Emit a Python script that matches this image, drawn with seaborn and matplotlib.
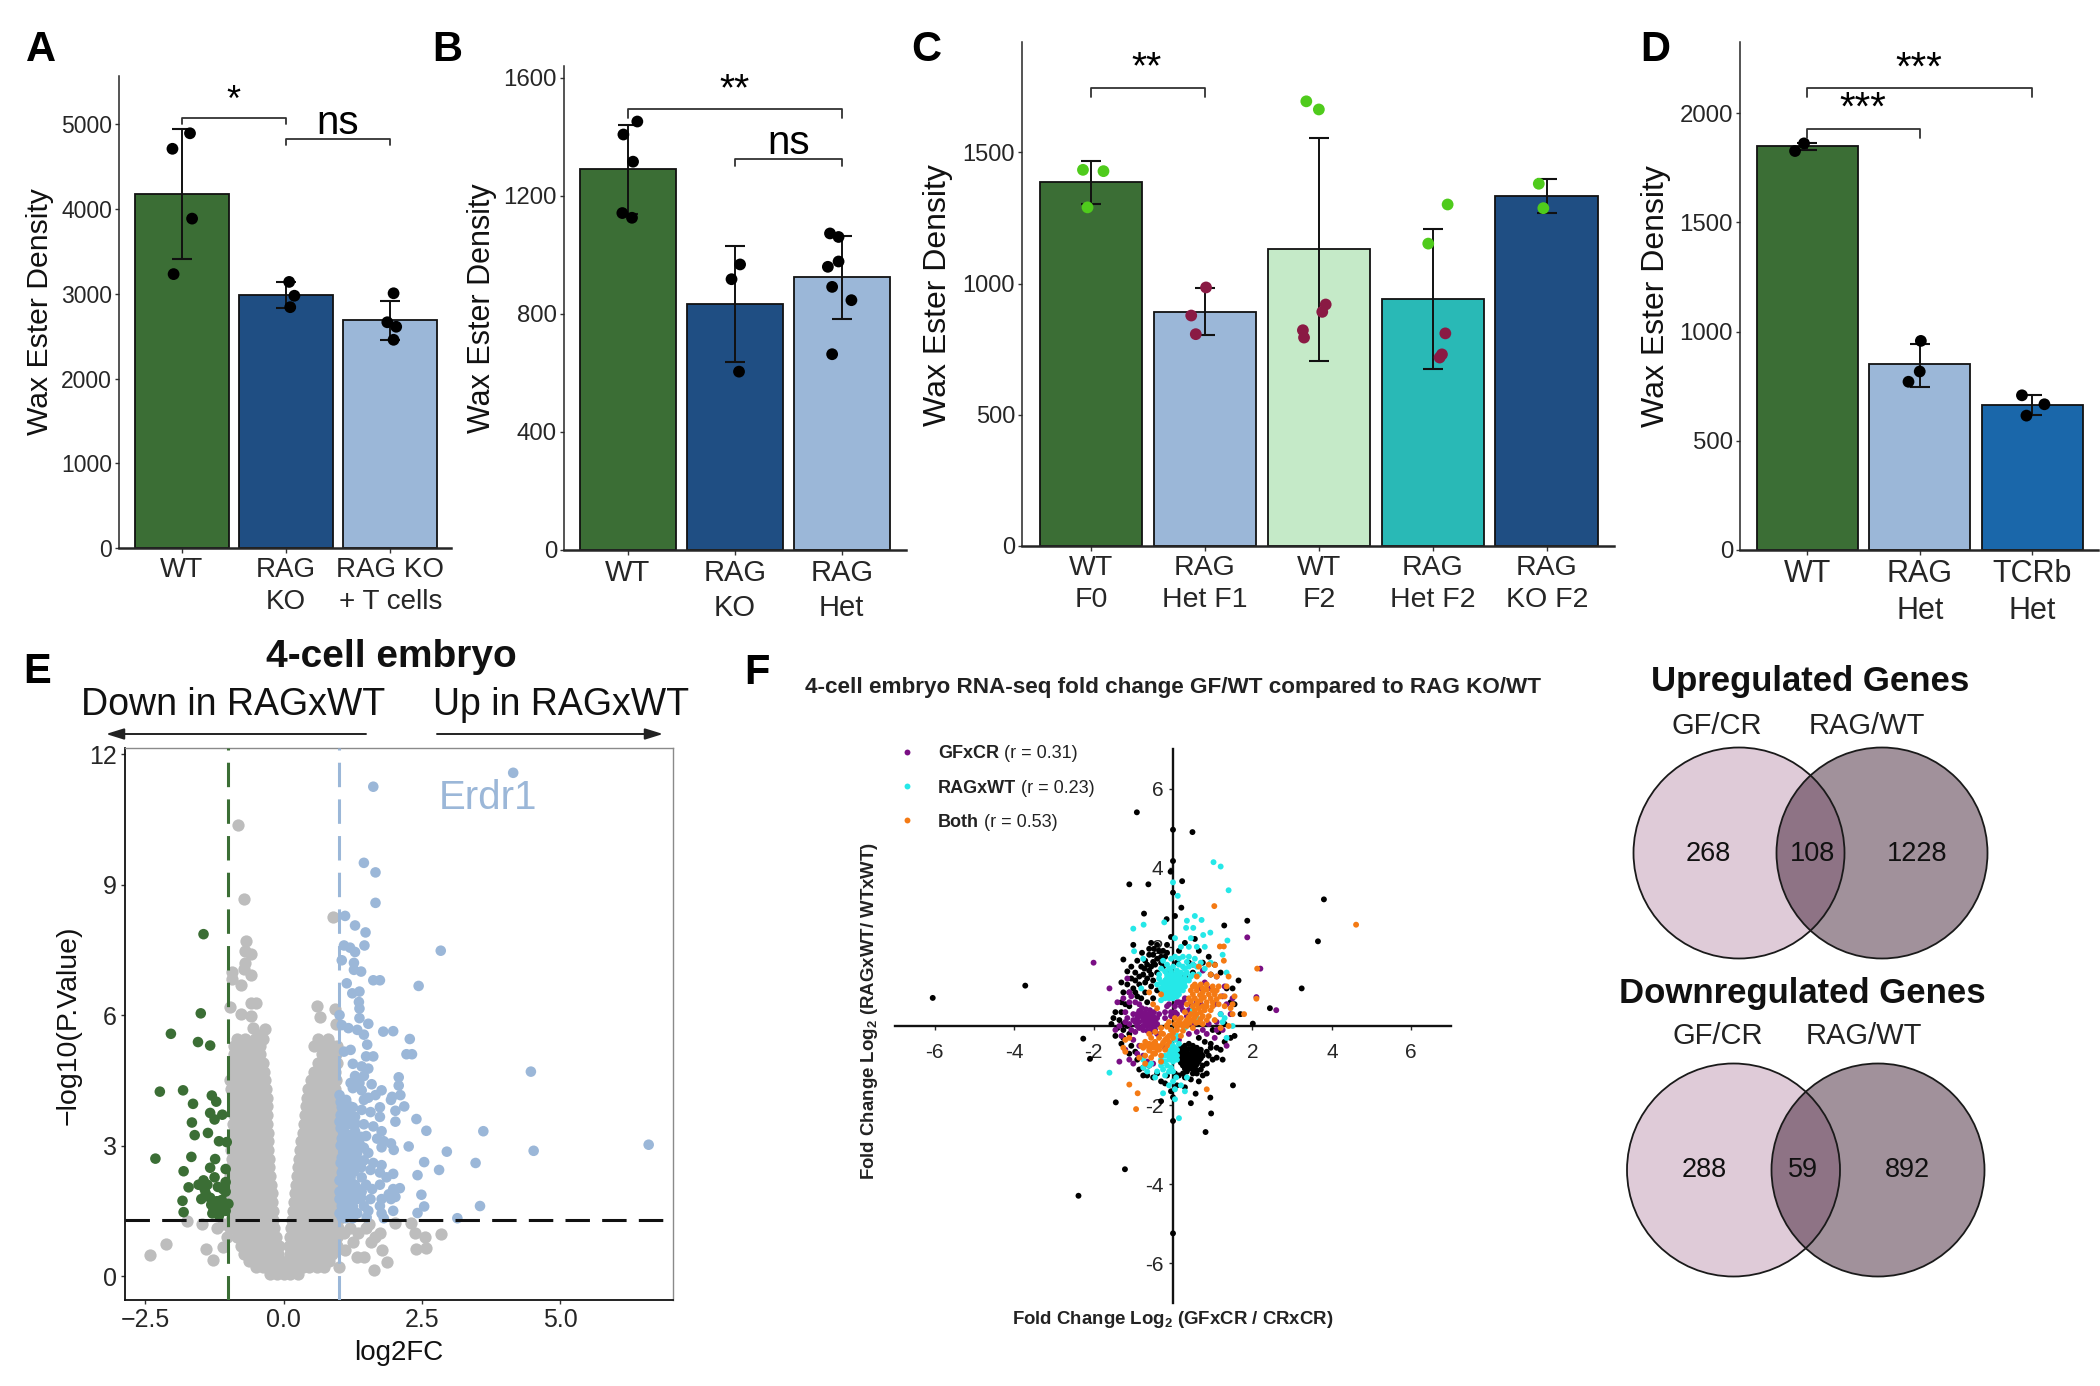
import matplotlib
matplotlib.use("Agg")
import matplotlib.pyplot as plt
from matplotlib.patches import Circle
import numpy as np
import pandas as pd
import seaborn as sns

W, H = 2100, 1386
sns.set_theme(style="ticks")
plt.rcParams["font.family"] = ["Liberation Sans", "DejaVu Sans"]
plt.rcParams["mathtext.fontset"] = "custom"
plt.rcParams["mathtext.bf"] = "Liberation Sans:bold"
plt.rcParams["mathtext.rm"] = "Liberation Sans"
plt.rcParams["axes.unicode_minus"] = True

GREEN, NAVY, LIGHT, PALE, TEAL, BLUE = "#3b6e35", "#1f4e83", "#9bb7d8", "#c5eac8", "#29b9b6", "#1a67aa"
DOTG, DOTM = "#4fcb1c", "#8a1a44"

# ---- Panel A ----
a_labels = ["WT", "RAG\nKO", "RAG KO\n+ T cells"]
a_means = [4180, 2990, 2690]
a_lo = [3410, 2830, 2450]
a_hi = [4950, 3140, 2920]
a_pt_group = [0, 0, 0, 0, 1, 1, 1, 2, 2, 2, 2]
a_pt_off = [-.088, .08, .10, -.077, .03, .08, .04, .03, -.03, .055, .03]
a_pt_val = [4711, 4894, 3887, 3232, 3140, 2977, 2842, 3006, 2664, 2611, 2457]
# ---- Panel B ----
b_labels = ["WT", "RAG\nKO", "RAG\nHet"]
b_means = [1289, 832, 924]
b_lo = [1138, 636, 783]
b_hi = [1438, 1029, 1065]
b_pt_group = [0, 0, 0, 0, 0, 1, 1, 1, 2, 2, 2, 2, 2, 2, 2]
b_pt_off = [.09, -.04, .05, -.05, .04, .05, -.03, .04, -.11, -.03, -.03, -.13, -.09, .09, -.09]
b_pt_val = [1451, 1407, 1315, 1141, 1125, 967, 917, 604, 1072, 1060, 977, 959, 891, 846, 663]
# ---- Panel C ----
c_labels = ["WT\nF0", "RAG\nHet F1", "WT\nF2", "RAG\nHet F2", "RAG\nKO F2"]
c_means = [1385, 892, 1132, 942, 1332]
c_lo = [1304, 802, 703, 676, 1268]
c_hi = [1466, 982, 1556, 1209, 1400]
c_pt_group = [0, 0, 0, 1, 1, 1, 2, 2, 2, 2, 2, 2, 3, 3, 3, 3, 3, 4, 4]
c_pt_off = [-.07, .11, -.03, .01, -.12, -.08, -.11, 0, .06, .03, -.14, -.13, .13, -.04, .11, .08, .06, -.07, -.03]
c_pt_val = [1433, 1428, 1290, 985, 878, 807, 1694, 1663, 920, 892, 822, 794, 1301, 1152, 810, 730, 718, 1380, 1287]
c_pt_sex = ["g", "g", "g", "m", "m", "m", "g", "g", "m", "m", "m", "m", "g", "g", "m", "m", "m", "g", "g"]
# ---- Panel D ----
d_labels = ["WT", "RAG\nHet", "TCRb\nHet"]
d_means = [1848, 849, 663]
d_lo = [1830, 748, 617]
d_hi = [1865, 942, 710]
d_pt_group = [0, 0, 1, 1, 1, 2, 2, 2]
d_pt_off = [-.03, -.11, .01, 0, -.1, -.09, .11, -.05]
d_pt_val = [1861, 1826, 957, 817, 770, 708, 667, 615]

# ---- Panel E ----
gray_rows = [
 (0.05, [-.25, -.12, .0, .12, .25]),
 (0.2, [-.5, -.38, -.26, -.14, -.02, .1, .22, .34, .46, .6, .72]),
 (0.35, [-.62, -.5, -.38, -.26, -.14, -.04, .08, .18, .3, .42, .55, .68, .82]),
 (0.5, [-.72, -.6, -.48, -.36, -.22, -.1, .12, .24, .36, .48, .6, .74, .88]),
 (0.7, [-.78, -.66, -.54, -.42, -.3, -.18, -.08, .1, .22, .34, .46, .58, .7, .84, .96]),
 (0.9, [-.85, -.72, -.6, -.48, -.36, -.22, -.14, .12, .24, .36, .48, .6, .72, .84, .97]),
 (1.1, [-.98, -.84, -.7, -.57, -.44, -.31, -.18, .14, .26, .38, .5, .62, .74, .86, .98]),
 (1.3, [-.96, -.83, -.7, -.57, -.44, -.31, -.2, .15, .28, .4, .52, .64, .76, .88, .98]),
 (1.5, [-.97, -.84, -.71, -.58, -.45, -.32, -.2, .17, .29, .41, .53, .65, .77, .89, .98]),
 (1.7, [-.95, -.82, -.69, -.56, -.43, -.3, -.21, .18, .3, .42, .54, .66, .78, .9, .98]),
 (1.9, [-.97, -.84, -.71, -.58, -.45, -.32, -.22, .2, .32, .44, .56, .68, .8, .92]),
 (2.1, [-.95, -.82, -.69, -.56, -.43, -.33, -.23, .22, .34, .46, .58, .7, .82, .94]),
 (2.3, [-.97, -.84, -.71, -.58, -.45, -.35, -.25, .24, .36, .48, .6, .72, .84, .96]),
 (2.5, [-.95, -.82, -.69, -.56, -.46, -.36, -.26, .26, .38, .5, .62, .74, .86, .97]),
 (2.7, [-.93, -.8, -.67, -.56, -.46, -.36, -.27, .28, .4, .52, .64, .76, .88, .98]),
 (2.9, [-.95, -.82, -.7, -.58, -.48, -.38, -.28, .3, .42, .54, .66, .78, .9]),
 (3.1, [-.92, -.8, -.68, -.57, -.47, -.37, -.28, .32, .44, .56, .68, .8, .92]),
 (3.3, [-.9, -.78, -.66, -.55, -.45, -.35, -.29, .34, .46, .58, .7, .82, .94]),
 (3.5, [-.92, -.8, -.68, -.57, -.47, -.37, -.3, .36, .48, .6, .72, .84, .96]),
 (3.7, [-.9, -.78, -.66, -.55, -.45, -.36, -.3, .38, .5, .62, .74, .86, .97]),
 (3.9, [-.92, -.8, -.68, -.57, -.47, -.38, -.31, .4, .52, .64, .76, .88, .98]),
 (4.1, [-.9, -.78, -.66, -.55, -.45, -.37, -.31, .42, .54, .66, .78, .9]),
 (4.3, [-.95, -.82, -.7, -.58, -.48, -.38, -.32, .44, .56, .68, .8, .92]),
 (4.5, [-.97, -.85, -.73, -.6, -.5, -.4, -.33, .5, .62, .74, .86, .95]),
 (4.7, [-.9, -.78, -.66, -.55, -.45, -.36, .55, .68, .82, .93]),
 (4.9, [-.92, -.8, -.68, -.56, -.45, -.37, .62, .75, .88, .96]),
 (5.1, [-.9, -.78, -.66, -.55, -.43, .7, .85, .95]),
 (5.3, [-.9, -.75, -.62, -.5, -.42, .55, .72, .9, .97]),
 (5.45, [-.85, -.7, -.52, -.38, .62, .8]),
]
gray_extra = [(-.83, 10.36), (-.71, 8.67), (-.69, 7.7), (-.7, 7.48), (-.6, 7.4), (-.7, 7.2), (-.93, 6.82), (-.78, 6.7),
 (-.6, 6.93), (-.93, 7), (-.72, 7.05), (-.97, 6.18), (-.78, 6.02), (-.59, 6.27), (-.51, 6.27), (-.6, 5.98), (-.33, 5.68),
 (-.42, 5.55), (-.55, 5.7), (.6, 6.2), (.65, 5.95), (.93, 6.15), (.95, 5.8), (.89, 8.25), (-2.42, .48), (-2.12, .73),
 (-1.75, 1.26), (-1.47, 1.19), (-1.41, .63), (-1.27, .38), (-1.21, 1.1), (-1.09, .66), (-1.1, 1.2), (-1.02, .9),
 (1.64, .13), (1.87, .33), (1.78, .6), (1.58, .78), (1.45, .44), (1.33, .44), (1.74, 1), (1.49, 1.1), (2.02, 1.22),
 (2.3, 1.22), (2.38, 1), (2.56, .9), (2.85, .96), (2.4, .62), (2.57, .65), (1.25, .78), (1.09, 1), (1.0, .2),
 (1.2, 1.1), (1.35, 1.0), (1.65, .9), (1.1, .6), (1.55, 1.2)]
green_pts = [(-1.45, 7.86), (-1.5, 6.04), (-2.04, 5.57), (-1.55, 5.38), (-1.33, 5.3), (-2.24, 4.24), (-1.82, 4.27), (-1.3, 4.15),
 (-1.64, 3.96), (-1.22, 4.01), (-1.33, 3.75), (-1.11, 3.71), (-1.25, 3.6), (-1.66, 3.53), (-1.61, 3.24), (-1.37, 3.29),
 (-1.17, 3.1), (-1.03, 3.08), (-2.32, 2.7), (-1.67, 2.74), (-1.24, 2.69), (-1.33, 2.49), (-1.81, 2.41), (-1.05, 2.46),
 (-1.45, 2.2), (-1.25, 2.27), (-1.54, 2.1), (-1.72, 2.04), (-1.43, 2), (-1.19, 2.05), (-1.05, 2.16), (-1.05, 1.94),
 (-1.49, 1.77), (-1.83, 1.73), (-1.33, 1.8), (-1.21, 1.72), (-1.0, 1.66), (-1.31, 1.64), (-1.13, 1.57), (-1.81, 1.47),
 (-1.29, 1.44), (-1.17, 1.39), (-1.05, 1.5), (-1.41, 1.9), (-1.12, 1.75), (-1.1, 2.0), (-1.38, 2.1), (-1.27, 1.55)]
blue_pts = [(4.15, 11.57), (1.62, 11.25), (1.45, 9.5), (1.66, 9.28), (1.66, 8.58), (1.11, 8.28), (1.29, 8.06), (1.48, 7.9),
 (1.46, 7.6), (2.84, 7.48), (1.09, 7.6), (1.2, 7.55), (1.29, 7.45), (1.05, 7.26), (1.27, 7.2), (1.27, 7.04), (1.4, 7),
 (1.62, 6.8), (1.74, 6.8), (1.14, 6.73), (2.44, 6.67), (1.37, 6.54), (1.24, 6.5), (1.36, 6.3), (1.37, 6.15), (1.01, 6),
 (1.37, 5.93), (1.05, 5.77), (1.53, 5.8), (1.17, 5.7), (1.33, 5.66), (1.8, 5.62), (1.98, 5.63), (1.45, 5.55), (1.51, 5.32),
 (2.28, 5.45), (1.09, 5.16), (1.21, 5.2), (2.22, 5.1), (2.32, 5.1), (1.49, 5.05), (1.62, 5.05), (1.25, 4.88), (1.41, 4.82),
 (1.53, 4.77), (4.47, 4.7), (2.08, 4.57), (1.29, 4.6), (1.45, 4.6), (1.21, 4.44), (1.37, 4.44), (1.59, 4.41), (2.08, 4.38),
 (1.25, 4.32), (1.41, 4.27), (1.01, 4.16), (1.77, 4.27), (1.66, 4.16), (1.96, 4.12), (2.11, 4.16), (1.13, 4.05), (1.45, 4.05),
 (1.53, 4.1), (1.94, 4.05), (2.18, 3.9), (1.05, 3.88), (1.25, 3.88), (1.74, 3.88), (2.02, 3.8), (1.41, 3.82), (1.57, 3.77),
 (1.09, 3.71), (1.29, 3.66), (1.74, 3.66), (2.4, 3.61), (2.02, 3.55), (1.01, 3.55), (1.17, 3.49), (1.45, 3.49), (1.62, 3.44),
 (3.61, 3.33), (2.58, 3.34), (1.09, 3.33), (1.29, 3.33), (1.77, 3.33), (1.49, 3.22), (1.69, 3.16), (1.05, 3.16), (1.21, 3.1),
 (1.37, 3.05), (1.81, 3.1), (1.94, 3.05), (6.6, 3.02), (2.26, 2.98), (1.77, 2.96), (1.99, 2.9), (4.52, 2.88), (2.95, 2.86),
 (1.09, 2.88), (1.33, 2.83), (1.53, 2.83), (1.05, 2.72), (1.21, 2.66), (1.45, 2.66), (1.62, 2.6), (2.54, 2.62), (3.47, 2.6),
 (1.13, 2.49), (1.33, 2.49), (1.57, 2.44), (1.77, 2.55), (2.81, 2.44), (1.74, 2.38), (1.05, 2.38), (1.98, 2.35), (2.42, 2.32),
 (1.86, 2.27), (1.21, 2.27), (1.41, 2.27), (1.09, 2.1), (1.29, 2.1), (1.49, 2.1), (1.74, 2.1), (2.1, 2.02), (1.98, 2),
 (1.01, 1.94), (1.21, 1.94), (1.41, 1.94), (1.9, 1.88), (2.49, 1.87), (2.02, 1.82), (1.13, 1.77), (1.33, 1.77), (1.57, 1.77),
 (1.77, 1.77), (1.94, 1.77), (1.05, 1.61), (1.25, 1.61), (1.45, 1.61), (1.74, 1.61), (2.54, 1.6), (3.55, 1.61), (1.98, 1.5),
 (1.13, 1.44), (1.33, 1.44), (1.53, 1.5), (1.77, 1.44), (2.42, 1.45), (1.81, 1.33), (3.14, 1.33), (1.25, 1.33), (1.01, 1.44),
 (1.01, 1.77), (1.01, 2.2), (1.03, 2.6), (1.03, 3.0), (1.03, 3.4), (1.03, 3.7), (1.03, 4.0), (1.14, 1.6), (1.16, 1.9),
 (1.15, 2.2), (1.15, 2.6), (1.15, 3.0), (1.15, 3.25), (1.15, 3.75), (1.27, 1.5), (1.3, 1.85), (1.27, 2.4), (1.27, 2.95),
 (1.3, 3.5), (1.2, 3.9), (1.4, 1.8), (1.4, 2.5), (1.4, 3.2), (1.5, 1.35), (1.05, 1.35), (1.12, 1.33), (1.6, 2.0),
 (1.08, 1.5), (1.2, 1.75), (1.1, 2.0), (1.22, 2.15), (1.1, 2.35), (1.22, 2.55), (1.1, 2.7), (1.22, 2.85), (1.1, 3.1),
 (1.22, 3.25), (1.1, 3.5), (1.22, 3.65), (1.1, 3.95), (1.35, 2.0), (1.35, 2.65), (1.35, 3.15), (1.45, 2.95)]

# ---- Panel F ----
f_black = [(-6.05, .71), (-3.72, 1.02), (-.91, 5.4), (0, 4.96), (.49, 4.9), (0, 4.17), (-.06, 3.9), (-1.1, 3.58), (-.62, 3.58),
 (.23, 3.66), (-.73, 2.84), (.21, 2.99), (-.16, 2.7), (0, 3.37), (.05, 2.78), (3.8, 3.2), (3.65, 2.14), (3.24, .95), (1.87, 2.66),
 (1.29, 2.54), (2.44, .45), (2.01, .06), (-2.26, -.32), (-2.09, -.83), (-1.44, -1.93), (-1.21, -3.62), (-2.38, -4.29), (0, -5.24),
 (0, -2.4), (.82, -2.68), (.96, -2.21), (.94, -1.81), (1.51, -1.5), (.45, -1.95), (.57, -1.71),
 (-.55, 2.1), (-.4, 2.05), (-.48, 1.95), (-.35, 1.9), (-.6, 1.8), (-.78, 1.85), (-1.0, 2.05), (-1.25, 1.68), (-.9, 1.65), (-.7, 1.65),
 (-.5, 1.62), (-1.05, 1.5), (-1.15, 1.38), (-.95, 1.35), (-.72, 1.45), (-.6, 1.4), (-.45, 1.55), (-.3, 1.75), (-.15, 1.85), (-.05, 2.25),
 (.1, 1.6), (-.25, 1.5), (-1.3, .6), (-1.45, .35), (-1.35, .15), (-1.4, -.05), (-1.2, .55), (-1.0, .95), (-.85, 1.05), (-.7, .85),
 (-.65, 1.2), (-.5, 1.15), (-1.25, .85), (-1.1, .5), (-.9, .75), (-.5, .7), (-1.5, .2), (-1.55, .05), (-1.25, -.3), (-1.1, -.7),
 (-.9, -.85), (-.85, -1.1), (-.75, -1.25), (-.6, -1.0), (-.5, -1.3), (-.3, -1.4), (-.05, -1.65), (-.3, -1.9), (0, -1.8), (.3, -1.3),
 (.15, -1.25), (.45, -1.35), (.65, -1.4), (1.0, -.85), (1.25, -.85), (1.45, -.3), (1.55, -.25), (1.3, .05), (.7, -1.1), (.85, -1.2),
 (1.1, -.55), (.95, -.45), (.8, -.4), (.65, -.3), (.85, -.65),
 (.2, -.55), (.3, -.5), (.4, -.45), (.5, -.5), (.6, -.55), (.15, -.7), (.25, -.7), (.35, -.68), (.45, -.7), (.55, -.72), (.65, -.7),
 (.75, -.75), (.15, -.85), (.25, -.85), (.35, -.85), (.45, -.85), (.55, -.88), (.65, -.9), (.25, -1.0), (.35, -1.0), (.45, -1.0),
 (.55, -1.05), (.35, -1.15), (.5, -1.2), (.7, -.6), (.85, -.95), (.75, -1.0),
 (.3, 2.1), (.55, 2.2), (.65, 1.9), (.95, 1.3), (1.2, 1.35), (.9, 1.75), (.5, 1.35), (.3, 1.25), (.05, 1.1), (-.1, 1.35),
 (-1.3, 1.1), (-1.15, 1.05), (-1.05, 1.2), (-.95, 1.15), (-.85, 1.25), (-.8, 1.5), (-.65, 1.55), (-.55, 1.5), (-.4, 1.35), (-.55, 1.3),
 (-.75, 1.3), (-.4, 1.7), (-.5, 1.8), (-.6, 1.95), (-.25, 1.9), (-.3, 1.6), (-.2, 1.75), (-.15, 2.05), (-.7, 1.1), (-.55, 1.0), (-.4, .9),
 (-.95, .85), (-.8, .7), (-.65, .6), (-1.1, .85), (-1.3, .35), (-1.15, 0), (-1.25, .05), (-1.25, -.1), (-1.1, -.2), (-1.45, -.25),
 (-1.3, -.45), (-1.05, -.5), (-.95, -.65), (-.75, -1.05), (-.65, -1.25), (-.4, -1.2), (-.15, -1.25), (-.2, -1.45), (.05, -1.2), (.1, -1.5),
 (.25, -1.2), (.3, -1.55), (.6, -1.2), (.75, -1.25), (.9, -.75), (1.1, -.8), (.95, -.55), (1.2, -.6), (1.3, -.4), (1.15, -.15), (1.0, -.1),
 (.1, -.6), (.2, -.62), (.3, -.6), (.4, -.58), (.5, -.6), (.6, -.63), (.7, -.68), (.2, -.78), (.3, -.78), (.4, -.78), (.5, -.8), (.6, -.8),
 (.7, -.82), (.2, -.93), (.3, -.93), (.4, -.93), (.5, -.95), (.6, -.97), (.3, -1.08), (.4, -1.08), (.5, -1.1), (.6, -1.12),
 (.15, 1.9), (.4, 1.6), (.75, 1.6), (1.05, 1.55), (1.35, .95), (1.5, .95), (1.65, 1.15), (1.55, .55), (1.7, .3), (1.45, .6)]
f_purple = [(-2.0, 1.6), (-1.6, .95), (-1.4, .6), (-1.15, 1.2), (-1.25, .7), (-1.05, .75), (-.95, .6), (-1.2, .35), (-1.15, .2),
 (-1.35, 0), (-1.0, .3), (-.9, .2), (-.8, .35), (-.7, .32), (-.6, .3), (-.5, .25), (-.85, .1), (-.75, .15), (-.65, .15), (-.55, .12),
 (-.45, .1), (-.75, 0), (-.65, 0), (-.55, -.02), (-.45, 0), (-.8, .25), (-.7, .22), (-.6, .2), (-.5, .18), (-.65, -.12), (-.55, -.15),
 (-.4, -.2), (-1.45, -.1), (-1.3, -.25), (-1.0, -.35), (-.85, -.5), (-1.2, -.6), (-1.35, -.9), (-1.1, -.85), (-1.0, -.95), (-.65, -.9),
 (-.5, -.95), (-.2, .35), (-.1, .55), (-.05, .35), (.05, .5), (.15, .6), (-.15, .5), (.25, .4), (.35, .25), (.1, .3), (.3, .7), (.5, 1.55),
 (1.1, 1.25), (.75, 1.4), (.95, .95), (.7, .95), (1.25, .75), (1.45, .3), (1.2, .3), (1.35, .55), (1.05, .55), (.5, .05), (.6, -.15),
 (.85, -.2), (1.05, -.3), (1.35, -.5), (.15, -.35), (.4, -.2), (1.87, 2.24), (2.2, 1.45), (2.1, .73), (2.6, .4), (.9, .05), (.7, .55), (1.1, -.1),
 (-.9, .3), (-.85, .38), (-.78, .45), (-.68, .42), (-.58, .4), (-.48, .35), (-.4, .2), (-.95, .1), (-.9, 0), (-.85, -.05), (-.75, -.1),
 (-.6, .08), (-.7, .08), (-.5, .06), (-.4, .05), (-.35, .3), (-.45, -.1), (-.55, -.08), (-1.1, .05), (-1.0, .15), (-1.05, -.1), (-.95, -.15),
 (-1.2, .1), (-1.1, .6), (-.85, .55), (-1.1, .85), (-.2, .2), (-.05, .25), (.05, .35), (.2, .5), (.1, .6), (.25, .6), (.45, .55), (.4, .4),
 (.6, .6), (.8, 1.1), (1.1, .1), (1.25, -.1), (-.2, -.55), (-.9, -.7), (-.75, -.75), (.75, -.1), (1.3, 1.0), (1.5, .7)]
f_cyan = [(1.02, 4.14), (1.2, 4.03), (1.4, 3.43), (0, 3.63), (.12, 3.29), (.55, 2.78), (.35, 2.66), (.72, 2.68), (-.22, 2.62), (-.74, 2.56),
 (-1, 2.46), (.94, 2.36), (1.37, 2.16), (.51, 2.48), (.33, 2.48), (.76, 2.3), (-.98, 1.89), (.05, 2.22), (.45, 2.22),
 (-.2, .7), (-.1, .7), (0, .7), (.1, .75), (-.25, .85), (-.15, .85), (-.05, .85), (.05, .85), (.15, .9), (-.25, 1), (-.15, 1), (-.05, 1),
 (.05, 1), (.15, 1.05), (.25, 1.05), (-.2, 1.15), (-.1, 1.15), (0, 1.15), (.1, 1.15), (.2, 1.2), (.3, 1.2), (-.15, 1.3), (-.05, 1.3),
 (.05, 1.3), (.2, 1.35), (.35, 1.35), (-.3, 1.45), (-.1, 1.45), (0, 1.5), (.25, 1.5), (.4, 1.5), (.5, 1.3), (-.25, 1.65), (-.05, 1.7),
 (.05, 1.75), (.25, 1.75), (.4, 1.75), (.55, 1.7), (.7, 1.6), (.65, 1.3), (-.35, 1.3), (.8, 1.45), (.95, 1.6), (.2, 2.0), (.4, 2.0),
 (.6, 2.0), (.8, 2.0), (1.25, 1.8), (1.35, 1.35), (-.4, 1.05), (-.75, 1.7), (-.8, .95),
 (-.05, -.1), (.05, -.35), (-.05, -.45), (.05, -.55), (.15, -.45), (-.1, -.65), (0, -.7), (.1, -.75), (-.1, -.85), (0, -.9), (-.2, -.75),
 (-.3, -.85), (-.15, -1), (-.05, -1.05), (-.25, -1.1), (-.4, -1.15), (-.55, -.95), (-.75, -.85), (-.65, -1.15), (.08, -1.3), (.35, -1.3),
 (0, -1.4), (.2, -1.5), (-.1, -1.5), (-.25, -1.7), (.05, -1.85), (.15, -2.33), (-1.6, -1.18), (1.25, .1), (1.5, 0), (1.35, -.3),
 (.5, .4), (.6, .2), (.3, -.05),
 (-.3, .65), (-.25, .75), (-.15, .75), (-.05, .78), (.05, .78), (.15, .8), (.25, .9), (-.3, .95), (-.2, .92), (-.1, .92), (0, .92), (.1, .92),
 (.2, .98), (.3, 1.0), (-.3, 1.1), (-.2, 1.08), (-.1, 1.08), (0, 1.08), (.1, 1.08), (.2, 1.1), (.3, 1.12), (.4, 1.15), (-.15, 1.22), (-.05, 1.22),
 (.05, 1.22), (.15, 1.28), (.3, 1.3), (.45, 1.25), (-.2, 1.38), (-.05, 1.38), (.1, 1.4), (.3, 1.45), (.15, 1.55), (.35, 1.62), (.5, 1.55), (.6, 1.5),
 (.15, 1.7), (-.15, 1.55), (-.35, 1.2), (0, -.2), (.1, -.25), (0, -.5), (.1, -.6), (-.05, -.6), (.05, -.65), (0, -.8), (.1, -.85), (-.1, -.75),
 (-.2, -.9), (-.3, -1.0), (-.1, -1.15), (-.2, -1.25), (0, -1.15), (-.45, -1.3), (-.6, -1.0), (-.75, -1.05), (.05, -1.6), (.3, -1.65), (1.2, .3), (1.3, .2)]
f_orange = [(1.04, 3.03), (4.61, 2.56), (1.18, 2.01), (1.28, 2.01), (2.12, 1.45), (2.1, .69), (1.79, .3), (-1.1, -1.48), (-.89, -1.7),
 (-.93, -2.1), (.85, -1.6), (1.06, 1.54), (1.28, 1.65),
 (.6, 1.25), (.65, 1.5), (.9, 1.55), (.95, 1.3), (1.1, 1.25), (1.4, 1.25), (1.35, 1.0), (1.55, .75), (1.5, .55), (1.3, .5), (.55, 1.05),
 (.7, 1.05), (.85, 1.05), (1.0, 1.0), (1.15, 1.0), (.45, .9), (.6, .9), (.75, .85), (.9, .8), (1.05, .8), (1.2, .75), (.4, .7), (.55, .7),
 (.7, .65), (.85, .6), (1.0, .6), (1.15, .55), (1.3, .75), (.35, .55), (.5, .5), (.65, .45), (.8, .4), (.95, .4), (.3, .35), (.45, .3),
 (.6, .3), (.75, .25), (.9, .25), (.2, .2), (.35, .15), (.5, .15), (.65, .1), (.05, .2), (-.1, .1), (.05, .05), (.2, .05), (.35, 0),
 (.5, -.05), (-.15, -.02), (-.05, -.1), (.1, -.1), (.25, -.12), (-.3, -.05), (-.25, -.2), (-.1, -.25), (.2, -.25), (-.45, -.15), (-.35, -.3),
 (-.2, -.35), (-.1, -.4), (-.55, -.3), (-.45, -.4), (-.3, -.5), (-.15, -.5), (-.7, -.4), (-.6, -.45), (-.5, -.55), (-.35, -.6), (-.2, -.6),
 (-.75, -.55), (-.6, -.62), (-.45, -.7), (-.3, -.75), (-.8, -.5), (-.55, -.8), (-.3, -.9), (-1.25, -.55), (-1.2, -.65), (-1.2, -.35),
 (-.85, -.8), (-.7, -.95), (-.3, .8), (-.5, .55), (-.6, .85), (-1.1, -.3), (-.4, .45), (1.4, 0), (1.2, -.05), (1.05, .15), (.75, .05),
 (1.45, .45), (1.5, .3), (.55, .3),
 (-.6, -.55), (-.5, -.45), (-.4, -.5), (-.7, -.5), (-.5, -.7), (-.4, -.6), (-.25, -.42), (-.15, -.3), (0, -.18), (0, -.3), (.1, -.02), (.25, 0),
 (.15, .12), (.3, .08), (.42, .08), (.58, .08), (.4, .22), (.55, .22), (.7, .18), (.85, .15), (.55, .4), (.7, .35), (.85, .5), (.6, .55), (.75, .5),
 (1.0, .5), (.45, .62), (.62, .62), (.78, .72), (.95, .7), (1.1, .68), (.5, .8), (.68, .78), (.85, .92), (1.0, .9), (1.1, .9), (.6, .98), (.75, .95),
 (.5, 1.0), (-.15, .02), (-.3, -.18), (-.6, -.2), (-.7, -.75)]
f_legend = [("GFxCR", " (r = 0.31)", "#7a0f84"), ("RAGxWT", " (r = 0.23)", "#25e8e8"), ("Both", " (r = 0.53)", "#f47a14")]
f_ticks = [-6, -4, -2, 2, 4, 6]

# ---- Venn ----
venn_up = [268, 108, 1228]
venn_down = [288, 59, 892]


def mkax(l, t, r, b):
    return fig.add_axes([l / W, 1 - b / H, (r - l) / W, (b - t) / H])


def barpanel(box, xlim, ylim, yticks, labels, means, lo, hi, pcolors, grp, off, val, ptcolors, brackets, notes, xfs, yfs):
    ax = mkax(*box)
    df = pd.DataFrame({"group": labels, "value": means})
    sns.barplot(data=df, x="group", y="value", hue="group", order=labels, hue_order=labels, palette=pcolors,
                width=.9, edgecolor="#111111", linewidth=1.3, saturation=1, legend=False, errorbar=None, ax=ax)
    ax.errorbar(range(len(labels)), means, yerr=[np.array(means) - np.array(lo), np.array(hi) - np.array(means)],
                fmt="none", ecolor="#111111", elinewidth=1.4, capsize=7, capthick=1.5, zorder=4)
    pts = pd.DataFrame({"x": np.array(grp) + np.array(off), "y": val, "c": ptcolors})
    sns.scatterplot(data=pts, x="x", y="y", hue="c", palette={"k": "black", "g": DOTG, "m": DOTM}, s=72,
                    linewidth=0, legend=False, zorder=5, ax=ax)
    for x0, x1, top, tip in brackets:
        ax.plot([x0, x0, x1, x1], [tip, top, top, tip], color="#333333", lw=1.3, zorder=5, clip_on=False)
    for x, y, s, fs in notes:
        ax.text(x, y, s, ha="center", va="baseline", fontsize=fs, color="black", zorder=6)
    ax.set_xlim(*xlim)
    ax.set_ylim(*ylim)
    ax.set_yticks(yticks)
    ax.set_xlabel("")
    ax.set_ylabel("")
    ax.tick_params(axis="y", labelsize=yfs, length=3, width=1, pad=2, color="#333333")
    ax.tick_params(axis="x", labelsize=xfs, length=3.5, width=1, pad=3, color="#333333")
    for t in ax.get_xticklabels():
        t.set_linespacing(1.3)
    sns.despine(ax=ax)
    ax.spines["left"].set_linewidth(1.1)
    ax.spines["bottom"].set_linewidth(1.8)
    return ax


fig = plt.figure(figsize=(W / 100, H / 100), dpi=100, facecolor="white")

barpanel((119, 76, 451, 548), (-.6, 2.58), (0, 5570), range(0, 5001, 1000), a_labels, a_means, a_lo, a_hi,
         [GREEN, NAVY, LIGHT], a_pt_group, a_pt_off, a_pt_val, ["k"] * len(a_pt_val),
         [(0, 1, 5072, 5000), (1, 2, 4822, 4750)], [(.5, 5160, "*", 26), (1.49, 4880, "ns", 29)], 20, 16.5)
barpanel((564, 66, 906, 550), (-.595, 2.6), (0, 1639), range(0, 1601, 400), b_labels, b_means, b_lo, b_hi,
         [GREEN, NAVY, LIGHT], b_pt_group, b_pt_off, b_pt_val, ["k"] * len(b_pt_val),
         [(0, 2, 1492, 1464), (1, 2, 1325, 1299)], [(1, 1523, "**", 28), (1.5, 1340, "ns", 29)], 21, 17.3)
barpanel((1022, 42, 1614, 546), (-.605, 4.59), (0, 1920), [0, 500, 1000, 1500], c_labels, c_means, c_lo, c_hi,
         [GREEN, LIGHT, PALE, TEAL, NAVY], c_pt_group, c_pt_off, c_pt_val, c_pt_sex,
         [(0, 1, 1746, 1711)], [(.49, 1783, "**", 28)], 20.5, 17)
barpanel((1740, 42, 2098, 550), (-.6, 2.587), (0, 2325), [0, 500, 1000, 1500, 2000], d_labels, d_means, d_lo, d_hi,
         [GREEN, LIGHT, BLUE], d_pt_group, d_pt_off, d_pt_val, ["k"] * len(d_pt_val),
         [(0, 2, 2116, 2075), (0, 1, 1927, 1886)], [(.99, 2153, "***", 29), (.49, 1970, "***", 29)], 22, 17.3)

# ---- E volcano ----
axE = mkax(125, 748, 673, 1300)
rows_x = [x for y, xs in gray_rows for x in xs] + [p[0] for p in gray_extra]
rows_y = [y for y, xs in gray_rows for x in xs] + [p[1] for p in gray_extra]
sns.scatterplot(x=rows_x, y=rows_y, color="#bdbdbd", s=78, linewidth=0, legend=False, ax=axE, zorder=2)
vol = pd.concat([
    pd.DataFrame(green_pts, columns=["fc", "p"]).assign(k="down"),
    pd.DataFrame(blue_pts, columns=["fc", "p"]).assign(k="up"),
], ignore_index=True)
sns.scatterplot(data=vol, x="fc", y="p", hue="k", palette={"down": GREEN, "up": LIGHT}, s=58,
                linewidth=0, legend=False, ax=axE, zorder=2.2)
axE.axvline(-1, color=GREEN, lw=2.2, dashes=(8, 4), zorder=3)
axE.axvline(1, color=LIGHT, lw=2.2, dashes=(8, 4), zorder=3)
axE.axhline(1.3, color="#111111", lw=2.2, dashes=(8, 4), zorder=3)
axE.set_xlim(-2.87, 7.04)
axE.set_ylim(-.55, 12.14)
axE.set_xticks([-2.5, 0, 2.5, 5])
axE.set_xticklabels(["\u22122.5", "0.0", "2.5", "5.0"])
axE.set_yticks([0, 3, 6, 9, 12])
axE.set_xlabel("")
axE.set_ylabel("")
axE.tick_params(axis="both", labelsize=18, length=3, width=1, pad=3, color="#333333")
for s in ("top", "right"):
    axE.spines[s].set_color("#8a8a8a")
    axE.spines[s].set_linewidth(1)
for s in ("left", "bottom"):
    axE.spines[s].set_color("#111111")
    axE.spines[s].set_linewidth(1.3)
axE.text(3.69, 11.0, "Erdr1", color=LIGHT, fontsize=29, ha="center", va="center")

# ---- F scatter ----
axF = mkax(895, 749, 1451, 1303)
fdf = pd.concat([
    pd.DataFrame(f_black, columns=["x", "y"]).assign(k="none"),
    pd.DataFrame(f_purple, columns=["x", "y"]).assign(k="GFxCR"),
    pd.DataFrame(f_cyan, columns=["x", "y"]).assign(k="RAGxWT"),
    pd.DataFrame(f_orange, columns=["x", "y"]).assign(k="Both"),
], ignore_index=True)
pal = {"none": "black", **{n: c for n, _, c in f_legend}}
sns.scatterplot(data=fdf, x="x", y="y", hue="k", palette=pal, s=18, linewidth=0, legend=False, ax=axF, zorder=3)
axF.set_xlim(-7, 7)
axF.set_ylim(-7, 7)
axF.set_xticks(f_ticks)
axF.set_yticks(f_ticks)
axF.set_xticklabels([str(v) for v in f_ticks])
axF.set_yticklabels([str(v) for v in f_ticks])
axF.set_xlabel("")
axF.set_ylabel("")
axF.patch.set_visible(False)
axF.tick_params(axis="x", labelsize=15, length=3, width=1, pad=9)
axF.tick_params(axis="y", labelsize=15, length=3, width=1, pad=4)
for s in ("top", "right"):
    axF.spines[s].set_visible(False)
for s in ("left", "bottom"):
    axF.spines[s].set_position("zero")
    axF.spines[s].set_linewidth(1.7)
    axF.spines[s].set_color("#111111")
renderer = fig.canvas.get_renderer()
for i, (name, rest, col) in enumerate(f_legend):
    yy = 6.92 - .86 * i
    axF.scatter([-6.7], [yy], s=18, color=col, linewidths=0, clip_on=False)
    t = axF.text(-5.92, yy - .16, name, fontsize=13, fontweight="bold", va="baseline", ha="left", color="#222222")
    x1 = axF.transData.inverted().transform((t.get_window_extent(renderer).x1, 0))[0]
    axF.text(x1, yy - .16, rest, fontsize=13, va="baseline", ha="left", color="#222222")

# ---- overlay in pixel coordinates: text, arrows, venn ----
ov = fig.add_axes([0, 0, 1, 1], zorder=20)
ov.set_xlim(0, W)
ov.set_ylim(H, 0)
ov.axis("off")
ov.patch.set_visible(False)

for s, x, y in [("A", 26, 61), ("B", 432, 61), ("C", 911, 61), ("D", 1640, 61), ("E", 23, 683), ("F", 744, 684)]:
    ov.text(x, y, s, fontsize=30, fontweight="bold", ha="left", va="baseline", color="black")
for x, y, fs in [(40, 312, 21.7), (482, 308, 22), (938, 295, 23), (1656, 296, 23)]:
    ov.text(x, y, "Wax Ester Density", fontsize=fs, rotation=90, ha="center", va="center", color="#111111")

ov.text(391, 657, "4-cell embryo", fontsize=28, fontweight="bold", ha="center", va="center", color="#111111")
ov.text(233.5, 705, "Down in RAGxWT", fontsize=27, ha="center", va="center", color="#111111")
ov.text(561, 705, "Up in RAGxWT", fontsize=27, ha="center", va="center", color="#111111")
for x0, x1 in [(366, 106), (437, 663)]:
    ov.annotate("", xy=(x1, 734), xytext=(x0, 734),
                arrowprops=dict(arrowstyle="-|>,head_length=0.9,head_width=0.28", color="#222222", lw=1.4, shrinkA=0, shrinkB=0))
ov.text(399, 1353, "log2FC", fontsize=20, ha="center", va="center", color="#111111")
ov.text(69, 1025, "\u2212log10(P.Value)", fontsize=20.5, rotation=90, ha="center", va="center", color="#111111")

ov.text(1173, 687, "4-cell embryo RNA-seq fold change GF/WT compared to RAG KO/WT", fontsize=16.2, fontweight="bold",
        ha="center", va="center", color="#222222")
ov.text(1173, 1320, r"Fold Change Log$\mathbf{_2}$ (GFxCR / CRxCR)", fontsize=13.4, fontweight="bold", ha="center",
        va="center", color="#222222")
ov.text(870, 1011, r"Fold Change Log$\mathbf{_2}$ (RAGxWT/ WTxWT)", fontsize=13.4, fontweight="bold", rotation=90,
        ha="center", va="center", color="#222222")

LEFTC, RIGHTC = "#dfcbd8", "#250019"
for lx, rx, cy, r, counts, tx, ty, title, tcy, gx, rgx, gy in [
    (1739, 1882, 853, 105.5, venn_up, (1708, 1813, 1917), 854, "Upregulated Genes", 682, 1717, 1867, 726),
    (1733.5, 1878, 1170, 106.5, venn_down, (1704, 1803, 1907), 1170, "Downregulated Genes", 994, 1718, 1864, 1036),
]:
    ov.add_patch(Circle((lx, cy), r, facecolor=LEFTC, edgecolor="none"))
    ov.add_patch(Circle((rx, cy), r, facecolor=RIGHTC, alpha=.43, edgecolor="none"))
    ov.add_patch(Circle((lx, cy), r, facecolor="none", edgecolor="#1a1a1a", lw=1.3))
    ov.add_patch(Circle((rx, cy), r, facecolor="none", edgecolor="#1a1a1a", lw=1.3))
    for x, c in zip(tx, counts):
        ov.text(x, ty, str(c), fontsize=19.5, ha="center", va="center", color="#111111")
    ov.text((lx + rx) / 2 + (0 if title[0] == "U" else -3), tcy, title, fontsize=25, fontweight="bold", ha="center", va="center", color="#111111")
    ov.text(gx, gy, "GF/CR", fontsize=21, ha="center", va="center", color="#222222")
    ov.text(rgx, gy, "RAG/WT", fontsize=21, ha="center", va="center", color="#222222")

fig.savefig("out.png", dpi=100, facecolor="white")
